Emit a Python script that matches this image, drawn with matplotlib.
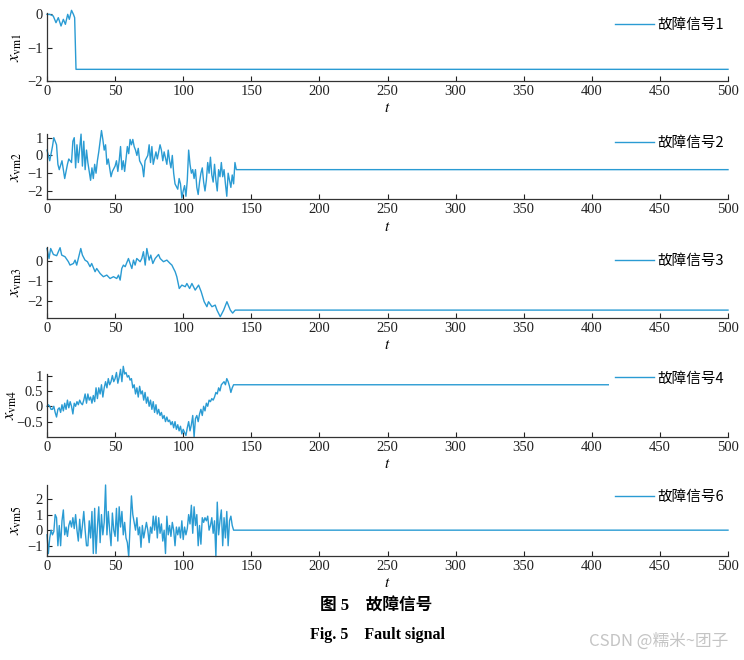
import numpy as np
import matplotlib
matplotlib.use("Agg")
import matplotlib.pyplot as plt
from matplotlib.font_manager import FontProperties

plt.rcParams['font.family'] = ['Liberation Serif', 'Noto Sans CJK SC']
plt.rcParams['mathtext.fontset'] = 'stix'
plt.rcParams['axes.unicode_minus'] = True

# ---------------- data ----------------
x_ticks = [0, 50, 100, 150, 200, 250, 300, 350, 400, 450, 500]

t1 = [0, 2, 4.6, 6.6, 8.3, 10.3, 12, 13.5, 15.2, 16.4, 18, 19.4, 20.3, 21.3, 500]
v1 = [0, 0, -0.05, -0.25, -0.1, -0.35, -0.15, -0.3, 0.0, -0.15, 0.12, 0.0, -0.1, -1.65, -1.65]

t2 = [0, 2, 4, 5, 7, 8, 9, 11, 12, 13,
      15, 16, 18, 19, 20, 21, 22, 23, 25, 26,
      27, 28, 29, 30, 32, 33, 34, 35, 36, 37,
      38, 39, 40, 41, 42, 43, 44, 45, 47, 48,
      50, 51, 52, 53, 54, 55, 56, 57, 58, 59,
      60, 61, 62, 63, 64, 65, 66, 67, 68, 70,
      71, 72, 74, 75, 76, 77, 78, 80, 81, 83,
      84, 85, 86, 88, 89, 90, 91, 92, 93, 94,
      96, 97, 98, 99, 100, 101, 102, 103, 104, 105,
      106, 107, 108, 109, 110, 111, 112, 113, 114, 115,
      116, 117, 118, 119, 120, 121, 122, 123, 124, 125,
      126, 127, 128, 129, 130, 131, 132, 133, 134, 135,
      136, 137, 138, 139, 500]
v2 = [0.3, -0.3, 0.5, 1.0, 0.6, -0.5, -0.8, -0.3, -0.8, -1.3,
      -0.5, -0.2, -0.4, 0.8, 1.0, -0.7, 0.6, -0.4, 1.2, -0.6,
      0.8, -0.8, 0.3, -0.4, -1.4, -0.7, -1.3, -0.5, -1.0, -0.3,
      0.2, 0.8, 1.4, 0.9, 0.3, 0.6, -0.5, -0.2, -1.2, -0.9,
      -0.6, -0.3, -0.9, -0.3, 0.5, -0.8, -0.3, -0.9, -0.2, 0.5,
      0.1, 0.9, 0.6, 0.9, 0.5, 0.3, 0.0, 0.4, -0.3, -0.6,
      -1.2, -0.3, 0.0, 0.6, -0.4, 0.5, -0.5, 0.2, -0.2, 0.6,
      0.3, -0.3, 0.2, -0.5, 0.3, -0.3, -0.7, 0.0, -1.0, -1.6,
      -1.9, -1.3, -1.6, -2.4, -2.0, -1.7, -2.3, -1.4, 0.3, -0.5,
      -1.0, -0.8, -1.3, -0.8, -1.8, -2.2, -1.5, -1.0, -0.7, -1.5,
      -2.0, -1.4, -0.4, -1.0, -0.1, -1.1, -1.5, -0.5, -1.4, -2.0,
      -0.8, -1.2, -0.4, -1.2, -0.8, -1.6, -2.3, -1.0, -1.4, -1.8,
      -1.1, -1.6, -0.4, -0.8, -0.8]

t3 = [0, 1.5, 2.7, 4.7, 7.1, 9.6, 10.8, 13.2, 15.7, 16.9,
      19.4, 20.6, 21.8, 23, 24.8, 26, 27.9, 29.7, 31.6, 32.8,
      35.3, 36.5, 39, 41.4, 43.9, 46.3, 48.8, 51.2, 52.5, 53.7,
      54.9, 56.1, 57.4, 59.8, 61, 62.3, 63.5, 64.7, 65.9, 68.4,
      69.6, 70.8, 72.1, 73.3, 75, 76.2, 77.7, 79.4, 81.9, 83.1,
      85.5, 88, 90.4, 91.7, 92.9, 94.1, 95.3, 97.1, 99, 101.5,
      102.7, 104.7, 106.4, 108.8, 111.3, 113.2, 115.4, 117.4, 118.6, 121.1,
      123.5, 124.8, 127.2, 129.7, 132.1, 134.6, 136.3, 138.2, 500]
v3 = [0.63, 0.13, 0.63, 0.33, 0.27, 0.67, 0.3, 0.22, -0.03, -0.2,
      -0.12, 0.05, -0.2, 0.13, 0.63, 0.3, 0.05, -0.03, -0.28, -0.12,
      -0.53, -0.37, -0.62, -0.78, -0.7, -0.87, -0.78, -0.87, -0.7, -0.95,
      -0.37, -0.2, -0.28, 0.13, -0.12, -0.37, 0.05, -0.2, 0.13, -0.03,
      0.13, 0.47, -0.2, 0.63, 0.05, 0.3, -0.12, 0.13, 0.33, 0.13,
      -0.03, 0.05, -0.12, -0.2, -0.37, -0.53, -0.78, -1.37, -1.2, -1.28,
      -1.12, -1.37, -1.12, -1.45, -1.2, -1.53, -2.03, -2.28, -2.03, -2.28,
      -2.2, -2.45, -2.78, -2.45, -2.03, -2.45, -2.6, -2.45, -2.45]

# sampled at t = 0, 1, 2, ... then held constant to t = 500
v4 = [0.0, 0.05, 0.0, -0.1, -0.1, 0.0, -0.2, -0.35, -0.1, -0.05,
      -0.2, 0.05, -0.15, 0.1, -0.1, 0.2, -0.05, 0.15, 0.0, -0.25,
      0.1, 0.0, 0.15, 0.05, 0.2, 0.1, 0.05, 0.2, 0.4, 0.1,
      0.4, 0.2, 0.3, 0.1, 0.35, 0.15, 0.6, 0.25, 0.6, 0.4,
      0.7, 0.3, 0.6, 0.8, 0.6, 0.9, 0.7, 0.8, 1.0, 0.8,
      0.9, 1.1, 0.75, 0.95, 1.2, 0.8, 1.3, 1.05, 1.1, 0.95,
      1.0, 0.85, 0.9, 0.6, 0.7, 0.4, 0.6, 0.3, 0.65, 0.4,
      0.5, 0.2, 0.45, 0.1, 0.3, 0.0, 0.2, -0.1, 0.15, -0.2,
      0.05, -0.25, -0.1, -0.3, -0.2, -0.4, -0.3, -0.5, -0.35, -0.5,
      -0.45, -0.6, -0.5, -0.7, -0.5, -0.75, -0.6, -0.8, -0.65, -0.9,
      -0.75, -0.85, -0.95, -0.7, -0.5, -0.8, -0.6, -0.3, -1.0, -0.4,
      -0.3, -0.5, -0.25, -0.1, -0.3, 0.0, -0.15, 0.1, 0.0, 0.2,
      0.15, 0.25, 0.2, 0.3, 0.45, 0.4, 0.6, 0.5, 0.7, 0.75,
      0.8, 0.7, 0.9, 0.8, 0.65, 0.45, 0.6, 0.7]
hold4 = 0.7

v5 = [-0.3, -1.5, -0.5, 0.0, -0.3, -0.1, 1.0, 0.8, -1.0, 0.3,
      -1.0, 0.6, 1.3, -0.3, 0.2, -0.4, 0.3, 0.6, 0.2, 0.8,
      0.1, 1.0, 0.0, -0.7, 0.7, -0.5, 0.3, 1.2, 0.0, -1.0,
      -1.0, 0.6, -0.5, 1.2, -1.5, 1.4, -1.5, 0.2, 1.5, -0.8,
      1.0, -0.3, 0.5, 2.9, -0.3, 1.2, 0.0, -1.0, 1.1, 0.0,
      -0.4, 1.4, -0.7, 1.5, 0.2, 1.2, -0.3, 0.5, -0.5, -0.8,
      -1.7, 0.2, 2.2, 1.0, 0.5, 0.0, 0.8, -0.3, 0.2, -1.1,
      0.3, -0.5, 0.0, 0.5, 0.0, -0.8, 0.2, -0.2, 0.9, 0.0,
      0.9, -0.5, 0.8, -0.2, 0.4, -0.7, 0.0, -1.5, 0.9, -0.3,
      0.3, -0.4, 0.5, 0.0, -1.0, 0.2, -0.3, 0.2, -0.5, 0.6,
      -0.6, 0.2, -0.3, 0.1, 1.0, 0.4, 1.6, -0.2, 1.5, 0.3,
      1.0, -1.0, 0.3, -0.9, 0.8, 0.5, 0.8, 0.6, 0.9, 0.0,
      0.3, 0.8, -0.2, 0.6, -1.7, 1.8, -0.3, 0.6, 1.3, -1.0,
      0.8, -0.5, 1.2, -1.0, 0.6, 0.9, 0.3, 0.0]
hold5 = 0.0

labels = ['故障信号1', '故障信号2', '故障信号3', '故障信号4', '故障信号6']
ylabels = [r'$x_{\mathrm{vm1}}$', r'$x_{\mathrm{vm2}}$', r'$x_{\mathrm{vm3}}$',
           r'$x_{\mathrm{vm4}}$', r'$x_{\mathrm{vm5}}$']
yticks = [[-2, -1, 0], [-2, -1, 0, 1], [-2, -1, 0], [-0.5, 0, 0.5, 1], [-1, 0, 1, 2]]
ytick_labels = [['−2', '−1', '0'], ['−2', '−1', '0', '1'], ['−2', '−1', '0'],
                ['−0.5', '0', '0.5', '1'], ['−1', '0', '1', '2']]
ylims = [(-2.0, 0.04), (-2.47, 1.19), (-2.83, 0.72), (-0.99, 1.05), (-1.64, 2.9)]

t4 = list(np.arange(len(v4))) + [500]
v4f = v4 + [hold4]
t5 = list(np.arange(len(v5))) + [500]
v5f = v5 + [hold5]

series = [(t1, v1), (t2, v2), (t3, v3), (t4, v4f), (t5, v5f)]

# ---------------- layout ----------------
W, H = 744, 660
fig = plt.figure(figsize=(W / 100, H / 100), dpi=100)
# (top_px, bottom_px) of each axes
boxes = [(13, 81), (134.3, 199.3), (246.7, 317.7), (374, 436.7), (485, 555.7)]
# offset (px) of legend text centre below axes top
leg_off = [12, 8.7, 14, 4.5, 12]
# right edge (px) of each y label
ylab_right = [24, 24, 24, 19, 24]
left_px, right_px = 47, 728
color = '#2a9bd3'

leg_font = FontProperties(family=['Noto Sans CJK SC', 'DejaVu Sans'], size=10.5)

for i, ((tt, vv), (top, bot)) in enumerate(zip(series, boxes)):
    ax = fig.add_axes([left_px / W, 1 - bot / H, (right_px - left_px) / W, (bot - top) / H])
    ax.plot(tt, vv, color=color, lw=1.0, label=labels[i], clip_on=False, zorder=2)
    ax.set_xlim(0, 500)
    ax.set_ylim(*ylims[i])
    ax.set_xticks(x_ticks)
    ax.set_xticklabels([str(x) for x in x_ticks])
    ax.set_yticks(yticks[i])
    ax.set_yticklabels(ytick_labels[i])
    for s in ['top', 'right']:
        ax.spines[s].set_visible(False)
    for s in ['left', 'bottom']:
        ax.spines[s].set_color('#333333')
        ax.spines[s].set_linewidth(0.9)
    ax.tick_params(direction='in', length=3.5, width=0.8, labelsize=10.5,
                   colors='#222222', pad=3)
    ax.set_xlabel('$t$', fontsize=11, labelpad=3)
    ax.set_ylabel(ylabels[i], fontsize=12)
    ax.yaxis.set_label_coords((ylab_right[i] - left_px) / (right_px - left_px), 0.5)
    h = bot - top
    leg = ax.legend(loc='center right', bbox_to_anchor=(1.003, 1 - leg_off[i] / h),
                    prop=leg_font, frameon=True, facecolor='white', edgecolor='none',
                    framealpha=1.0, borderaxespad=0, borderpad=0.4,
                    handlelength=2.7, handletextpad=0.25, fancybox=False)
    leg.set_zorder(5)
    leg.get_frame().set_linewidth(0)

fig.text(376 / W, 1 - 607 / H, '图 5　故障信号', ha='center', va='center',
         fontsize=12, fontweight='bold', family=['Liberation Serif', 'Noto Sans CJK SC'])
fig.text(377 / W, 1 - 635 / H, 'Fig. 5　Fault signal', ha='center', va='center',
         fontsize=11.5, fontweight='bold', family=['Liberation Serif', 'Noto Sans CJK SC'])
fig.text(728 / W, 1 - 641 / H, 'CSDN @糯米~团子', ha='right', va='center',
         fontsize=12, color='#c4c4c4', family=['Noto Sans CJK SC', 'DejaVu Sans'])

fig.savefig('out.png', dpi=100)
